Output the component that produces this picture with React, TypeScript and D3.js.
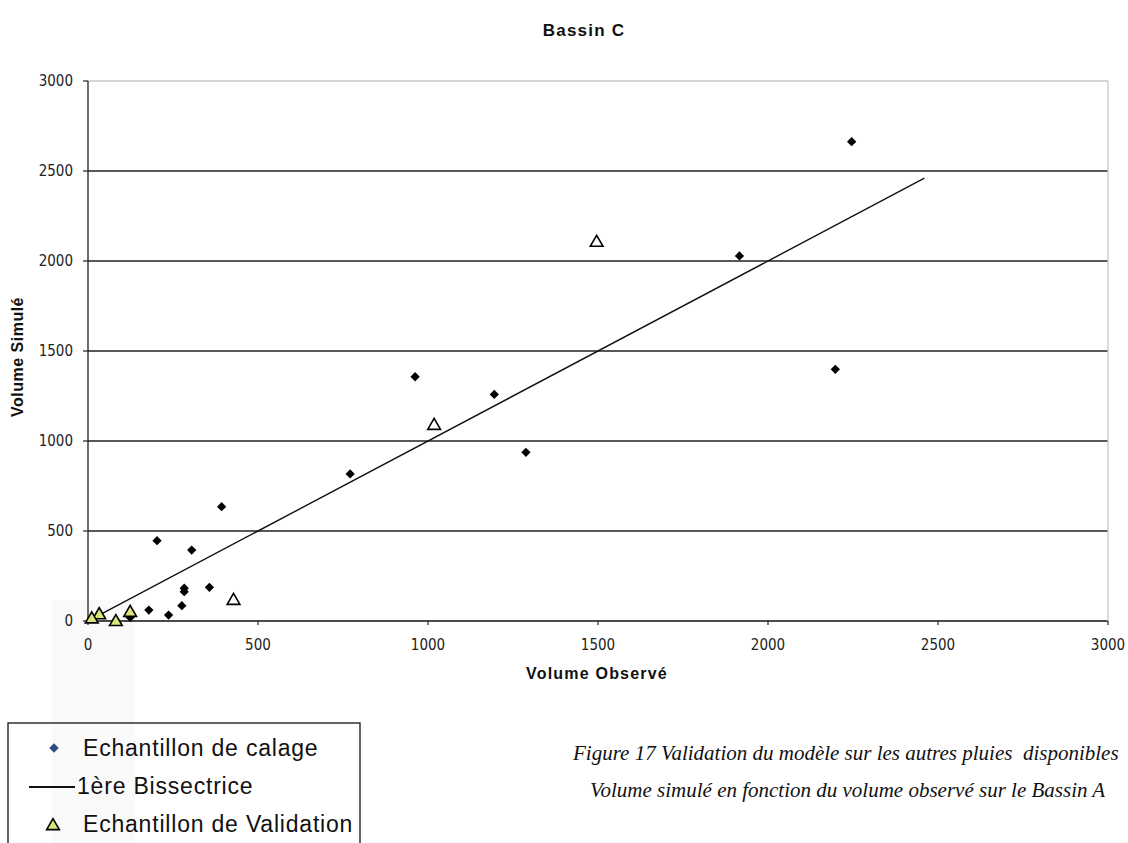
import React from "react";
import * as d3 from "d3";

const xTicks = [0, 500, 1000, 1500, 2000, 2500, 3000];
const yTicks = [0, 500, 1000, 1500, 2000, 2500, 3000];

const calageObs = [2246, 1916, 2198, 1288, 1195, 962, 771, 393, 203, 305, 283, 283, 357, 276, 237, 179, 124];
const calageSim = [2663, 2028, 1398, 937, 1259, 1357, 817, 635, 446, 394, 182, 163, 187, 85, 33, 61, 20];

const validObs = [1496, 1018, 428, 124, 82, 33, 11];
const validSim = [2102, 1085, 113, 46, -5, 33, 10];

const bissectrice = [30, 2460];

const W = 1128;
const H = 843;

export default function App() {
  const x = d3.scaleLinear().domain([0, 3000]).range([88, 1108]);
  const y = d3.scaleLinear().domain([0, 3000]).range([621, 81]);

  const diamond = d3.symbol().type(d3.symbolDiamond2).size(55)() as string;
  const triangle = d3.symbol().type(d3.symbolTriangle).size(70)() as string;
  const legendDiamond = d3.symbol().type(d3.symbolDiamond2).size(55)() as string;
  const legendTriangle = d3.symbol().type(d3.symbolTriangle).size(70)() as string;

  const line = d3
    .line<number>()
    .x((d) => x(d))
    .y((d) => y(d));

  const tickFont = "'Liberation Sans Narrow', 'DejaVu Sans Condensed', Arial, sans-serif";
  const sans = "Arial, 'Liberation Sans', sans-serif";
  const serif = "'Liberation Serif', 'Times New Roman', serif";

  return (
    <svg
      width={W}
      height={H}
      viewBox={`0 0 ${W} ${H}`}
      style={{ position: "absolute", left: 0, top: 0, background: "#fff" }}
    >
      <rect x={0} y={0} width={W} height={H} fill="#fff" />
      {/* faint scan shading */}
      <rect x={52} y={600} width={83} height={243} fill="#fafafa" />

      {/* title */}
      <text
        x={584}
        y={36}
        textAnchor="middle"
        fontFamily={sans}
        fontWeight="bold"
        fontSize={17}
        letterSpacing={1.2}
        fill="#111"
      >
        Bassin C
      </text>

      {/* gridlines */}
      {yTicks.map((t) => (
        <line
          key={"g" + t}
          x1={x(0)}
          x2={x(3000)}
          y1={y(t)}
          y2={y(t)}
          stroke={t === 3000 ? "#c8c8c8" : t === 0 ? "#111" : "#222"}
          strokeWidth={t === 3000 ? 1.5 : 1.3}
        />
      ))}
      {/* right border */}
      <line x1={x(3000)} x2={x(3000)} y1={y(3000)} y2={y(0)} stroke="#c4c4c4" strokeWidth={1.2} />

      {/* y axis */}
      <line x1={x(0)} x2={x(0)} y1={y(3000)} y2={y(0)} stroke="#222" strokeWidth={1.3} />
      {yTicks.map((t) => (
        <g key={"yt" + t}>
          <line x1={x(0) - 5} x2={x(0)} y1={y(t)} y2={y(t)} stroke="#222" strokeWidth={1.2} />
          <text
            x={73}
            y={y(t)}
            dy="0.36em"
            textAnchor="end"
            fontFamily={tickFont}
            fontSize={15}
            fill="#222"
          >
            {t}
          </text>
        </g>
      ))}

      {/* x axis ticks */}
      {xTicks.map((t) => (
        <g key={"xt" + t}>
          <line x1={x(t)} x2={x(t)} y1={y(0)} y2={y(0) + 4} stroke="#222" strokeWidth={1.2} />
          <text x={x(t)} y={650} textAnchor="middle" fontFamily={tickFont} fontSize={15} fill="#222">
            {t}
          </text>
        </g>
      ))}

      {/* axis labels */}
      <text
        x={597}
        y={679}
        textAnchor="middle"
        fontFamily={sans}
        fontWeight="bold"
        fontSize={16}
        letterSpacing={1.2}
        fill="#111"
      >
        Volume Observé
      </text>
      <text
        transform={`translate(23,357) rotate(-90)`}
        textAnchor="middle"
        fontFamily={sans}
        fontWeight="bold"
        fontSize={16}
        letterSpacing={0.5}
        fill="#111"
      >
        Volume Simulé
      </text>

      {/* bissectrice */}
      <path d={line(bissectrice) as string} fill="none" stroke="#111" strokeWidth={1.4} />

      {/* calage points */}
      {calageObs.map((v, i) => (
        <path key={"c" + i} d={diamond} transform={`translate(${x(v)},${y(calageSim[i])})`} fill="#000" />
      ))}

      {/* validation points */}
      {validObs.map((v, i) => (
        <path
          key={"v" + i}
          d={triangle}
          transform={`translate(${x(v)},${y(validSim[i])})`}
          fill={v < 200 ? "#dbe57a" : "#fff"}
          stroke="#000"
          strokeWidth={1.6}
        />
      ))}

      {/* legend */}
      <rect x={8} y={723} width={352} height={130} fill="none" stroke="#111" strokeWidth={1.3} />
      <path d={legendDiamond} transform="translate(54,748)" fill="#2d4a82" />
      <text x={83} y={756} fontFamily={sans} fontSize={23} letterSpacing={0.8} fill="#111">
        Echantillon de calage
      </text>
      <line x1={29} x2={75} y1={787} y2={787} stroke="#111" strokeWidth={1.8} />
      <text x={77} y={794} fontFamily={sans} fontSize={23} letterSpacing={0.8} fill="#111">
        1ère Bissectrice
      </text>
      <path d={legendTriangle} transform="translate(53,826)" fill="#dbe57a" stroke="#000" strokeWidth={1.6} />
      <text x={83} y={832} fontFamily={sans} fontSize={23} letterSpacing={0.8} fill="#111">
        Echantillon de Validation
      </text>

      {/* caption */}
      <text
        x={573}
        y={760}
        fontFamily={serif}
        fontStyle="italic"
        fontSize={21}
        fill="#111"
        style={{ whiteSpace: "pre" }}
      >
        {"Figure 17 Validation du modèle sur les autres pluies  disponibles"}
      </text>
      <text x={590} y={797} fontFamily={serif} fontStyle="italic" fontSize={21} fill="#111">
        Volume simulé en fonction du volume observé sur le Bassin A
      </text>
    </svg>
  );
}
